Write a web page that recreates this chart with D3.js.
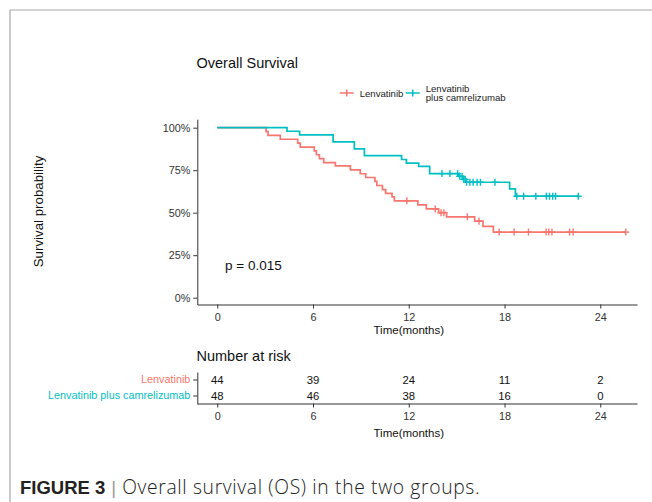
<!DOCTYPE html>
<html><head><meta charset="utf-8">
<script src="https://cdn.jsdelivr.net/npm/d3@7"></script>
<style>
html,body{margin:0;padding:0;background:#fff;}
svg{display:block;font-family:"Liberation Sans",Arial,sans-serif;}
</style></head>
<body>
<script>
// ---- data ----
const groups = ["Lenvatinib", "Lenvatinib plus camrelizumab"];
const groupColors = ["#F8766D", "#00BFC4"];
const xTicks = [0, 6, 12, 18, 24];
const yTicks = [0, 0.25, 0.5, 0.75, 1];

// Lenvatinib: step times (months) and survival after each step
const lenvTime = [3.06, 3.18, 3.95, 5.04, 5.2, 6.08, 6.21, 6.4, 6.67, 7.4, 8.34, 8.96, 9.3, 9.88, 10.0, 10.35, 10.55, 10.95, 11.1, 12.57, 13.1, 13.87, 14.37, 16.13, 16.65, 17.3];
const lenvSurv = [0.977, 0.955, 0.932, 0.909, 0.886, 0.864, 0.841, 0.818, 0.795, 0.775, 0.752, 0.729, 0.707, 0.684, 0.66, 0.636, 0.614, 0.593, 0.57, 0.546, 0.522, 0.5, 0.476, 0.45, 0.42, 0.386];
const lenvCensor = [11.88, 13.66, 14.02, 14.2, 15.67, 16.4, 17.66, 18.6, 19.5, 20.6, 20.77, 20.97, 22.08, 22.3, 25.6];

// Lenvatinib plus camrelizumab
const comboTime = [4.37, 5.16, 7.26, 8.59, 9.22, 11.55, 11.85, 12.62, 13.31, 15.14, 15.39, 15.6, 18.32, 18.68];
const comboSurv = [0.979, 0.958, 0.917, 0.875, 0.836, 0.813, 0.792, 0.773, 0.73, 0.714, 0.696, 0.679, 0.64, 0.597];
const comboCensor = [14.08, 14.58, 15.06, 15.19, 15.34, 15.45, 15.54, 15.62, 15.83, 16.03, 16.28, 16.49, 17.4, 18.77, 19.2, 19.96, 20.62, 20.82, 21.02, 21.2, 22.62];

const riskLenv = [44, 39, 24, 11, 2];
const riskCombo = [48, 46, 38, 16, 0];

const pValueText = "p = 0.015";
const titleText = "Overall Survival";
const xTitle = "Time(months)";
const yTitle = "Survival probability";
const riskTitle = "Number at risk";

// ---- drawing ----
const W = 652, H = 502;
const svg = d3.select("body").append("svg").attr("width", W).attr("height", H);

// figure frame
svg.append("line").attr("x1", 10).attr("y1", 10).attr("x2", W).attr("y2", 10).attr("stroke", "#a8a8a8").attr("stroke-width", 1.2);
svg.append("line").attr("x1", 10).attr("y1", 10).attr("x2", 10).attr("y2", H).attr("stroke", "#a8a8a8").attr("stroke-width", 1.2);

const x = d3.scaleLinear().domain([-1.25, 26.3]).range([197.3, 637]);
const y = d3.scaleLinear().domain([-0.04, 1.05]).range([304.5, 119.2]);

// title
svg.append("text").attr("x", 196.5).attr("y", 68.3).attr("font-size", 14.5).attr("fill", "#111").text(titleText);

// y axis
const yAx = svg.append("g").attr("transform", "translate(197.3,0)")
  .call(d3.axisLeft(y).tickValues(yTicks).tickFormat(d3.format(".0%")).tickSize(4).tickSizeOuter(0).tickPadding(3));
// x axis
const xAx = svg.append("g").attr("transform", "translate(0,304.5)")
  .call(d3.axisBottom(x).tickValues(xTicks).tickSize(4).tickSizeOuter(0).tickPadding(5));
[yAx, xAx].forEach(g => {
  g.selectAll("path,line").attr("stroke", "#333").attr("stroke-width", 1);
  g.selectAll("text").attr("font-size", 10.8).attr("fill", "#333").attr("font-family", "Liberation Sans, Arial, sans-serif");
});

svg.append("text").attr("transform", "translate(43,211.5) rotate(-90)").attr("text-anchor", "middle")
  .attr("font-size", 13.3).attr("fill", "#111").text(yTitle);
svg.append("text").attr("x", x(12)).attr("y", 334).attr("text-anchor", "middle")
  .attr("font-size", 11.5).attr("fill", "#111").text(xTitle);

// curves
function stepFn(times, surv, t) {
  let s = 1;
  for (let i = 0; i < times.length; i++) if (times[i] <= t) s = surv[i];
  return s;
}
function curvePoints(times, surv, censor) {
  const pts = [[0, 1]];
  times.forEach((t, i) => pts.push([t, surv[i]]));
  const end = Math.max(d3.max(times), d3.max(censor));
  pts.push([end, surv[surv.length - 1]]);
  return pts;
}
const line = d3.line().x(d => x(d[0])).y(d => y(d[1])).curve(d3.curveStepAfter);
const series = [
  {times: lenvTime, surv: lenvSurv, censor: lenvCensor, color: groupColors[0]},
  {times: comboTime, surv: comboSurv, censor: comboCensor, color: groupColors[1]}
];
series.forEach(s => {
  svg.append("path").datum(curvePoints(s.times, s.surv, s.censor)).attr("d", line)
    .attr("fill", "none").attr("stroke", s.color).attr("stroke-width", 1.7);
  const g = svg.append("g").attr("stroke", s.color).attr("stroke-width", 1.4);
  s.censor.forEach(t => {
    const cx = x(t), cy = y(stepFn(s.times, s.surv, t));
    g.append("line").attr("x1", cx - 3.5).attr("x2", cx + 3.5).attr("y1", cy).attr("y2", cy);
    g.append("line").attr("x1", cx).attr("x2", cx).attr("y1", cy - 3.5).attr("y2", cy + 3.5);
  });
});

// p-value
svg.append("text").attr("x", 225).attr("y", 270).attr("font-size", 13.5).attr("fill", "#111").text(pValueText);

// legend
const legend = [
  {cx: 346.7, cy: 93, color: groupColors[0], lines: ["Lenvatinib"], ty: [96.5]},
  {cx: 412.7, cy: 93, color: groupColors[1], lines: ["Lenvatinib", "plus camrelizumab"], ty: [91.5, 101.3]}
];
legend.forEach(l => {
  const g = svg.append("g").attr("stroke", l.color).attr("stroke-width", 1.5);
  g.append("line").attr("x1", l.cx - 7).attr("x2", l.cx + 7).attr("y1", l.cy).attr("y2", l.cy);
  g.append("line").attr("x1", l.cx).attr("x2", l.cx).attr("y1", l.cy - 3.5).attr("y2", l.cy + 3.5);
  l.lines.forEach((t, i) => svg.append("text").attr("x", l.cx + 13).attr("y", l.ty[i])
    .attr("font-size", 9.6).attr("fill", "#222").text(t));
});

// risk table
svg.append("text").attr("x", 196.5).attr("y", 360.5).attr("font-size", 14.5).attr("fill", "#111").text(riskTitle);
const yr = d3.scaleBand().domain(groups).range([372, 404]);
const yrAx = svg.append("g").attr("transform", "translate(197.3,0)")
  .call(d3.axisLeft(yr).tickSize(4).tickSizeOuter(0).tickPadding(3));
const xrAx = svg.append("g").attr("transform", "translate(0,403.5)")
  .call(d3.axisBottom(x).tickValues(xTicks).tickSize(4).tickSizeOuter(0).tickPadding(5));
[yrAx, xrAx].forEach(g => {
  g.selectAll("path,line").attr("stroke", "#333").attr("stroke-width", 1);
  g.selectAll("text").attr("font-size", 10.8).attr("fill", "#333").attr("font-family", "Liberation Sans, Arial, sans-serif");
});
yrAx.selectAll(".tick text").attr("fill", (d, i) => groupColors[i]).attr("font-size", 10.8);
const riskRows = [riskLenv, riskCombo];
riskRows.forEach((row, gi) => {
  row.forEach((v, i) => {
    svg.append("text").attr("x", x(xTicks[i])).attr("y", yr(groups[gi]) + yr.bandwidth() / 2)
      .attr("dy", "0.36em").attr("text-anchor", "middle").attr("font-size", 11.3).attr("fill", "#111").text(v);
  });
});
svg.append("text").attr("x", x(12)).attr("y", 436.5).attr("text-anchor", "middle")
  .attr("font-size", 11.5).attr("fill", "#111").text(xTitle);

// caption
const cap = svg.append("text").attr("x", 20).attr("y", 493.5).attr("font-size", 18.5).attr("fill", "#222");
cap.append("tspan").attr("font-weight", "bold").text("FIGURE 3");
cap.append("tspan").attr("fill", "#999").attr("dx", 6).text("|");
cap.append("tspan").attr("dx", 6).attr("font-family", "Open Sans, Liberation Sans, sans-serif").attr("font-size", 19.3).attr("letter-spacing", 0.65).attr("font-weight", 300).text("Overall survival (OS) in the two groups.");
</script>
</body></html>
